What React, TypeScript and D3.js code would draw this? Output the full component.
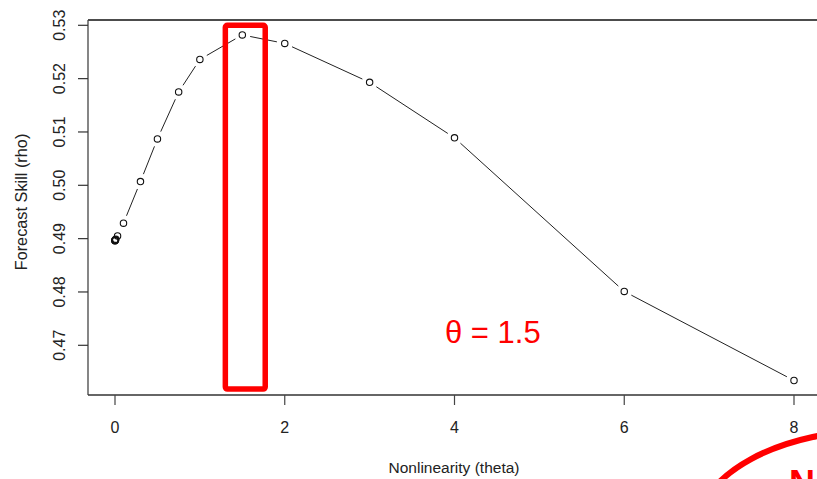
import React from "react";
import * as d3 from "d3";

const thetas = [0, 0.0001, 0.0003, 0.001, 0.003, 0.01, 0.03, 0.1, 0.3, 0.5, 0.75, 1, 1.5, 2, 3, 4, 6, 8];
const rho = [
  0.4896, 0.4896, 0.4897, 0.4897, 0.4898, 0.4899, 0.4905, 0.4929, 0.5007, 0.5087, 0.5175, 0.5236,
  0.5282, 0.5266, 0.5193, 0.5089, 0.4801, 0.4634,
];
const xTicks = [0, 2, 4, 6, 8];
const yTicks = [0.47, 0.48, 0.49, 0.5, 0.51, 0.52, 0.53];
const highlight = { x0: 1.3, x1: 1.77, y0: 0.4618, y1: 0.53 };

const width = 817;
const height = 479;
const box = { left: 88, top: 20, bottom: 395 };
const font = "'Liberation Sans', Arial, sans-serif";

const App = () => {
  const x = d3.scaleLinear().domain([0, 8]).range([115, 794]);
  const y = d3.scaleLinear().domain([0.47, 0.53]).range([345.3, 25.3]);

  const pts = thetas.map((t, i) => ({ px: x(t), py: y(rho[i]) }));

  // R type="b": segments with gaps around each point
  const gap = 8;
  const segs: { x1: number; y1: number; x2: number; y2: number }[] = [];
  for (let i = 0; i < pts.length - 1; i++) {
    const a = pts[i];
    const b = pts[i + 1];
    const dx = b.px - a.px;
    const dy = b.py - a.py;
    const len = Math.hypot(dx, dy);
    if (len <= gap * 2) continue;
    const ux = dx / len;
    const uy = dy / len;
    segs.push({
      x1: a.px + ux * gap,
      y1: a.py + uy * gap,
      x2: b.px - ux * gap,
      y2: b.py - uy * gap,
    });
  }

  return (
    <svg
      width={width}
      height={height}
      style={{ position: "absolute", left: 0, top: 0, background: "#fff" }}
    >
      <rect width={width} height={height} fill="#fff" />

      {/* box */}
      <line x1={box.left} y1={box.top} x2={width} y2={box.top} stroke="#111" strokeWidth={1.6} />
      <line x1={box.left} y1={box.top} x2={box.left} y2={box.bottom} stroke="#444" strokeWidth={1.3} />
      <line x1={box.left} y1={box.bottom} x2={width} y2={box.bottom} stroke="#333" strokeWidth={1.3} />

      {/* y axis */}
      {yTicks.map((t) => (
        <g key={t}>
          <line x1={box.left - 10} x2={box.left} y1={y(t)} y2={y(t)} stroke="#333" strokeWidth={1.2} />
          <text
            transform={`translate(65,${y(t)}) rotate(-90)`}
            textAnchor="middle"
            fontFamily={font}
            fontSize={16}
            fill="#222"
          >
            {d3.format(".2f")(t)}
          </text>
        </g>
      ))}

      {/* x axis */}
      {xTicks.map((t) => (
        <g key={t}>
          <line x1={x(t)} x2={x(t)} y1={box.bottom} y2={box.bottom + 10} stroke="#444" strokeWidth={1.2} />
          <text x={x(t)} y={433} textAnchor="middle" fontFamily={font} fontSize={16} fill="#222">
            {t}
          </text>
        </g>
      ))}

      <text x={454} y={473} textAnchor="middle" fontFamily={font} fontSize={15.5} fill="#222">
        Nonlinearity (theta)
      </text>
      <text
        transform={`translate(26.5,202) rotate(-90)`}
        textAnchor="middle"
        fontFamily={font}
        fontSize={16.3}
        fill="#222"
      >
        Forecast Skill (rho)
      </text>

      {/* series */}
      {segs.map((s, i) => (
        <line key={i} {...s} stroke="#222" strokeWidth={1} />
      ))}
      {pts.map((p, i) => (
        <circle key={i} cx={p.px} cy={p.py} r={3.2} fill="none" stroke="#111" strokeWidth={1.1} />
      ))}

      {/* annotations */}
      <rect
        x={x(highlight.x0)}
        y={y(highlight.y1)}
        width={x(highlight.x1) - x(highlight.x0)}
        height={y(highlight.y0) - y(highlight.y1)}
        rx={2}
        fill="none"
        stroke="#ff0000"
        strokeWidth={5.5}
      />
      <text x={445} y={343} fontFamily={font} fontSize={31} fill="#ff0000">
        θ = 1.5
      </text>
      <ellipse cx={880} cy={530} rx={183} ry={100} fill="none" stroke="#ff0000" strokeWidth={6} />
      <text x={789} y={496} fontFamily={font} fontSize={36} fontWeight="bold" fill="#ff0000">
        N
      </text>
    </svg>
  );
};

export default App;
